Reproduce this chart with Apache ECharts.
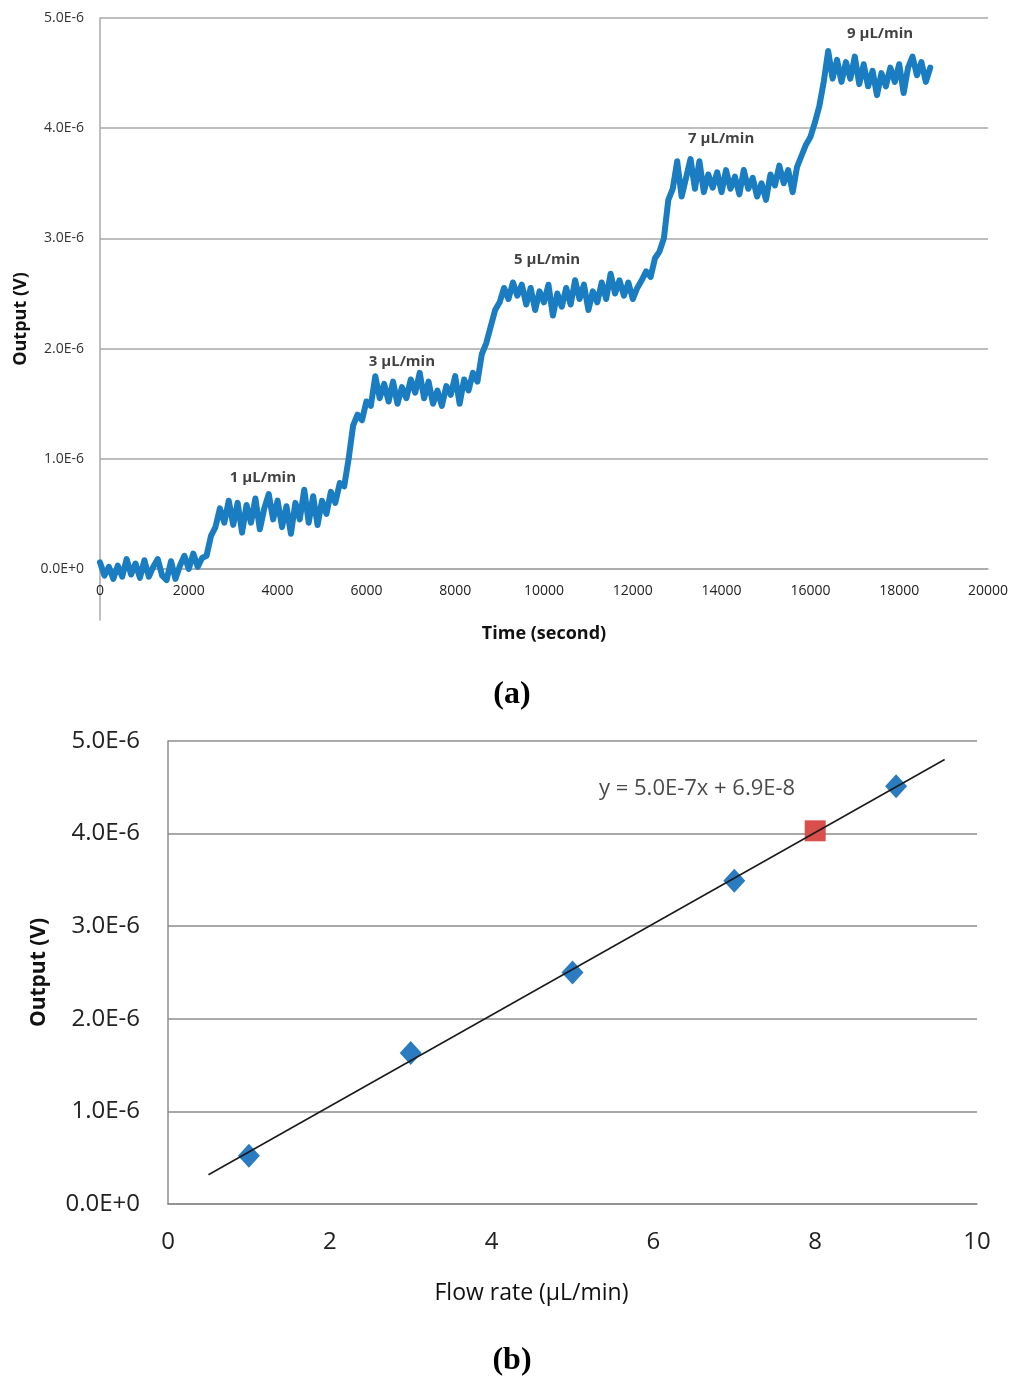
<!DOCTYPE html>
<html>
<head>
<meta charset="utf-8">
<script src="https://cdn.jsdelivr.net/npm/echarts@6/dist/echarts.min.js"></script>
<style>
html,body{margin:0;padding:0;background:#fff;}
#chart{width:1024px;height:1395px;}
</style>
</head>
<body>
<div id="chart"></div>
<script>
// ---------- DATA ----------
const UNIT = 1e-6; // outputs below are given in units of 1E-6 V

// (a) Output vs time, sampled every 100 s starting at 0 s
const SAMPLE_STEP = 100;
const outputA = [
  0.06,-0.06,0.02,-0.09,0.03,-0.07,0.09,-0.05,0.05,-0.08,
  0.08,-0.07,0.02,0.09,-0.06,-0.10,0.07,-0.09,0.03,0.12,
  0.00,0.14,0.02,0.10,0.12,0.30,0.38,0.55,0.42,0.62,
  0.40,0.60,0.33,0.58,0.42,0.64,0.36,0.55,0.68,0.45,
  0.62,0.38,0.57,0.32,0.60,0.45,0.72,0.42,0.66,0.40,
  0.62,0.50,0.70,0.60,0.78,0.75,1.00,1.30,1.40,1.35,
  1.52,1.48,1.75,1.55,1.68,1.52,1.70,1.50,1.65,1.55,
  1.72,1.60,1.78,1.55,1.70,1.50,1.62,1.48,1.66,1.58,
  1.75,1.50,1.72,1.62,1.78,1.70,1.95,2.05,2.20,2.35,
  2.42,2.55,2.45,2.60,2.48,2.58,2.40,2.55,2.35,2.52,
  2.42,2.58,2.30,2.50,2.38,2.55,2.40,2.62,2.45,2.58,
  2.35,2.52,2.42,2.60,2.45,2.68,2.50,2.62,2.48,2.60,
  2.45,2.55,2.62,2.70,2.65,2.82,2.88,3.00,3.35,3.45,
  3.70,3.38,3.55,3.72,3.45,3.70,3.42,3.58,3.46,3.60,
  3.42,3.62,3.45,3.56,3.40,3.62,3.45,3.55,3.38,3.50,
  3.35,3.58,3.48,3.66,3.50,3.62,3.42,3.65,3.75,3.85,
  3.92,4.05,4.20,4.42,4.70,4.45,4.62,4.42,4.60,4.45,
  4.65,4.40,4.58,4.38,4.52,4.30,4.50,4.38,4.55,4.42,
  4.58,4.32,4.55,4.65,4.48,4.60,4.42,4.55
];
const timeA = outputA.map((_, i) => i * SAMPLE_STEP);

const annoLabels = ['1 µL/min', '3 µL/min', '5 µL/min', '7 µL/min', '9 µL/min'];
const annoTime   = [3670, 6800, 10070, 13990, 17570];
const annoOutput = [0.83, 1.88, 2.81, 3.90, 4.86];

const yTickValuesA = [0, 1, 2, 3, 4, 5];
const yTickLabelsA = ['0.0E+0', '1.0E-6', '2.0E-6', '3.0E-6', '4.0E-6', '5.0E-6'];

// (b) Output vs flow rate
const flowRates  = [1, 3, 5, 7, 9];
const flowOutput = [0.52, 1.63, 2.50, 3.49, 4.51];
const unknownFlow = [8.0];
const unknownOutput = [4.03];
const trendFlow   = [0.5, 9.6];
const trendOutput = [0.316, 4.80];
const equationText = 'y = 5.0E-7x + 6.9E-8';
const equationPos = [6.54, 4.48];
const yTickLabelsB = ['0.0E+0', '1.0E-6', '2.0E-6', '3.0E-6', '4.0E-6', '5.0E-6'];

// ---------- CHART ----------
const FONT = '"Open Sans", "DejaVu Sans", sans-serif';
const chart = echarts.init(document.getElementById('chart'), null, {renderer: 'canvas'});
const fmtLabel = (labels) => (v) => labels[Math.round(v / UNIT)] ?? '';
const Y_MIN_A = -0.4628;
const GRID_A_H = 602;

const option = {
  backgroundColor: '#ffffff',
  animation: false,
  title: [
    {
      text: '{p|(}{b|a}{p|)}', left: 'center', top: 674,
      textStyle: { rich: {
        p: {fontFamily: '"Liberation Serif", serif', fontSize: 32, fontWeight: 'bold', color: '#000'},
        b: {fontFamily: '"Liberation Serif", serif', fontSize: 32, fontWeight: 'bold', color: '#000'}
      }}
    },
    {
      text: '{p|(}{b|b}{p|)}', left: 'center', top: 1340,
      textStyle: { rich: {
        p: {fontFamily: '"Liberation Serif", serif', fontSize: 32, fontWeight: 'bold', color: '#000'},
        b: {fontFamily: '"Liberation Serif", serif', fontSize: 32, fontWeight: 'bold', color: '#000'}
      }}
    }
  ],
  grid: [
    {left: 100, top: 18, width: 888, height: GRID_A_H, containLabel: false},
    {left: 168, top: 741, width: 809, height: 463, containLabel: false}
  ],
  xAxis: [
    {
      gridIndex: 0, type: 'value', min: 0, max: 20000, interval: 2000,
      position: 'bottom',
      // shift axis up from the grid bottom to the 0 V level
      offset: -GRID_A_H * (-Y_MIN_A) / (5 - Y_MIN_A),
      name: 'Time (second)', nameLocation: 'middle', nameGap: 56,
      nameTextStyle: {fontFamily: FONT, fontSize: 18, fontWeight: 'bold', color: '#111'},
      axisLine: {show: true, onZero: false, lineStyle: {color: '#a8a8a8', width: 1.5}},
      axisTick: {show: false},
      axisLabel: {fontFamily: FONT, fontSize: 14, color: '#222', margin: 15, formatter: v => String(v)},
      splitLine: {show: false}
    },
    {
      gridIndex: 1, type: 'value', min: 0, max: 10, interval: 2,
      name: 'Flow rate (µL/min)', nameLocation: 'middle', nameGap: 78,
      nameTextStyle: {fontFamily: FONT, fontSize: 23, color: '#111', padding: [0, 82, 0, 0]},
      axisLine: {show: true, lineStyle: {color: '#8c8c8c', width: 1.5}},
      axisTick: {show: false},
      axisLabel: {fontFamily: FONT, fontSize: 24, color: '#222', margin: 26, formatter: v => String(v)},
      splitLine: {show: false}
    }
  ],
  yAxis: [
    {
      gridIndex: 0, type: 'value', min: Y_MIN_A * UNIT, max: 5 * UNIT,
      name: 'Output (V)', nameLocation: 'middle', nameGap: 68,
      nameTextStyle: {fontFamily: FONT, fontSize: 18, fontWeight: 'bold', color: '#111'},
      axisLine: {show: true, onZero: false, lineStyle: {color: '#a8a8a8', width: 1.5}},
      axisTick: {show: false, customValues: yTickValuesA.map(v => v * UNIT)},
      axisLabel: {
        fontFamily: FONT, fontSize: 14, color: '#333', margin: 16,
        customValues: yTickValuesA.map(v => v * UNIT),
        formatter: fmtLabel(yTickLabelsA)
      },
      splitLine: {show: true, lineStyle: {color: '#a8a8a8', width: 1.5}}
    },
    {
      gridIndex: 1, type: 'value', min: 0, max: 5 * UNIT, interval: 1 * UNIT,
      name: 'Output (V)', nameLocation: 'middle', nameGap: 118,
      nameTextStyle: {fontFamily: FONT, fontSize: 21, fontWeight: 'bold', color: '#111'},
      axisLine: {show: true, lineStyle: {color: '#8c8c8c', width: 1.5}},
      axisTick: {show: false},
      axisLabel: {fontFamily: FONT, fontSize: 24, color: '#222', margin: 28, formatter: fmtLabel(yTickLabelsB)},
      splitLine: {show: true, lineStyle: {color: '#8c8c8c', width: 1.5}}
    }
  ],
  series: [
    {
      name: 'Output', type: 'line', xAxisIndex: 0, yAxisIndex: 0,
      data: timeA.map((t, i) => [t, outputA[i] * UNIT]),
      showSymbol: false, symbol: 'none', sampling: null, z: 3,
      lineStyle: {color: '#1a7cc1', width: 6, join: 'round', cap: 'round'}
    },
    {
      name: 'Labels A', type: 'scatter', xAxisIndex: 0, yAxisIndex: 0,
      data: annoTime.map((t, i) => ({name: annoLabels[i], value: [t, annoOutput[i] * UNIT]})),
      symbolSize: 0, silent: true, z: 4,
      label: {show: true, position: 'inside', formatter: p => p.name,
        fontFamily: FONT, fontSize: 15, fontWeight: 'bold', color: '#111'}
    },
    {
      name: 'Trend', type: 'line', xAxisIndex: 1, yAxisIndex: 1,
      data: trendFlow.map((x, i) => [x, trendOutput[i] * UNIT]),
      showSymbol: false, symbol: 'none', z: 4,
      lineStyle: {color: '#1a1a1a', width: 1.5}
    },
    {
      name: 'Calibration', type: 'scatter', xAxisIndex: 1, yAxisIndex: 1,
      data: flowRates.map((x, i) => [x, flowOutput[i] * UNIT]),
      symbol: 'diamond', symbolSize: [22, 24], z: 2,
      itemStyle: {color: '#2b7bc0', opacity: 1}
    },
    {
      name: 'Unknown', type: 'scatter', xAxisIndex: 1, yAxisIndex: 1,
      data: unknownFlow.map((x, i) => [x, unknownOutput[i] * UNIT]),
      symbol: 'rect', symbolSize: 21, z: 2,
      itemStyle: {color: '#d94f4c', opacity: 1}
    },
    {
      name: 'Equation', type: 'scatter', xAxisIndex: 1, yAxisIndex: 1,
      data: [{name: equationText, value: [equationPos[0], equationPos[1] * UNIT]}],
      symbolSize: 0, silent: true, z: 5,
      label: {show: true, position: 'inside', formatter: p => p.name,
        fontFamily: FONT, fontSize: 22, color: '#1a1a1a'}
    }
  ]
};
chart.setOption(option);
</script>
</body>
</html>
